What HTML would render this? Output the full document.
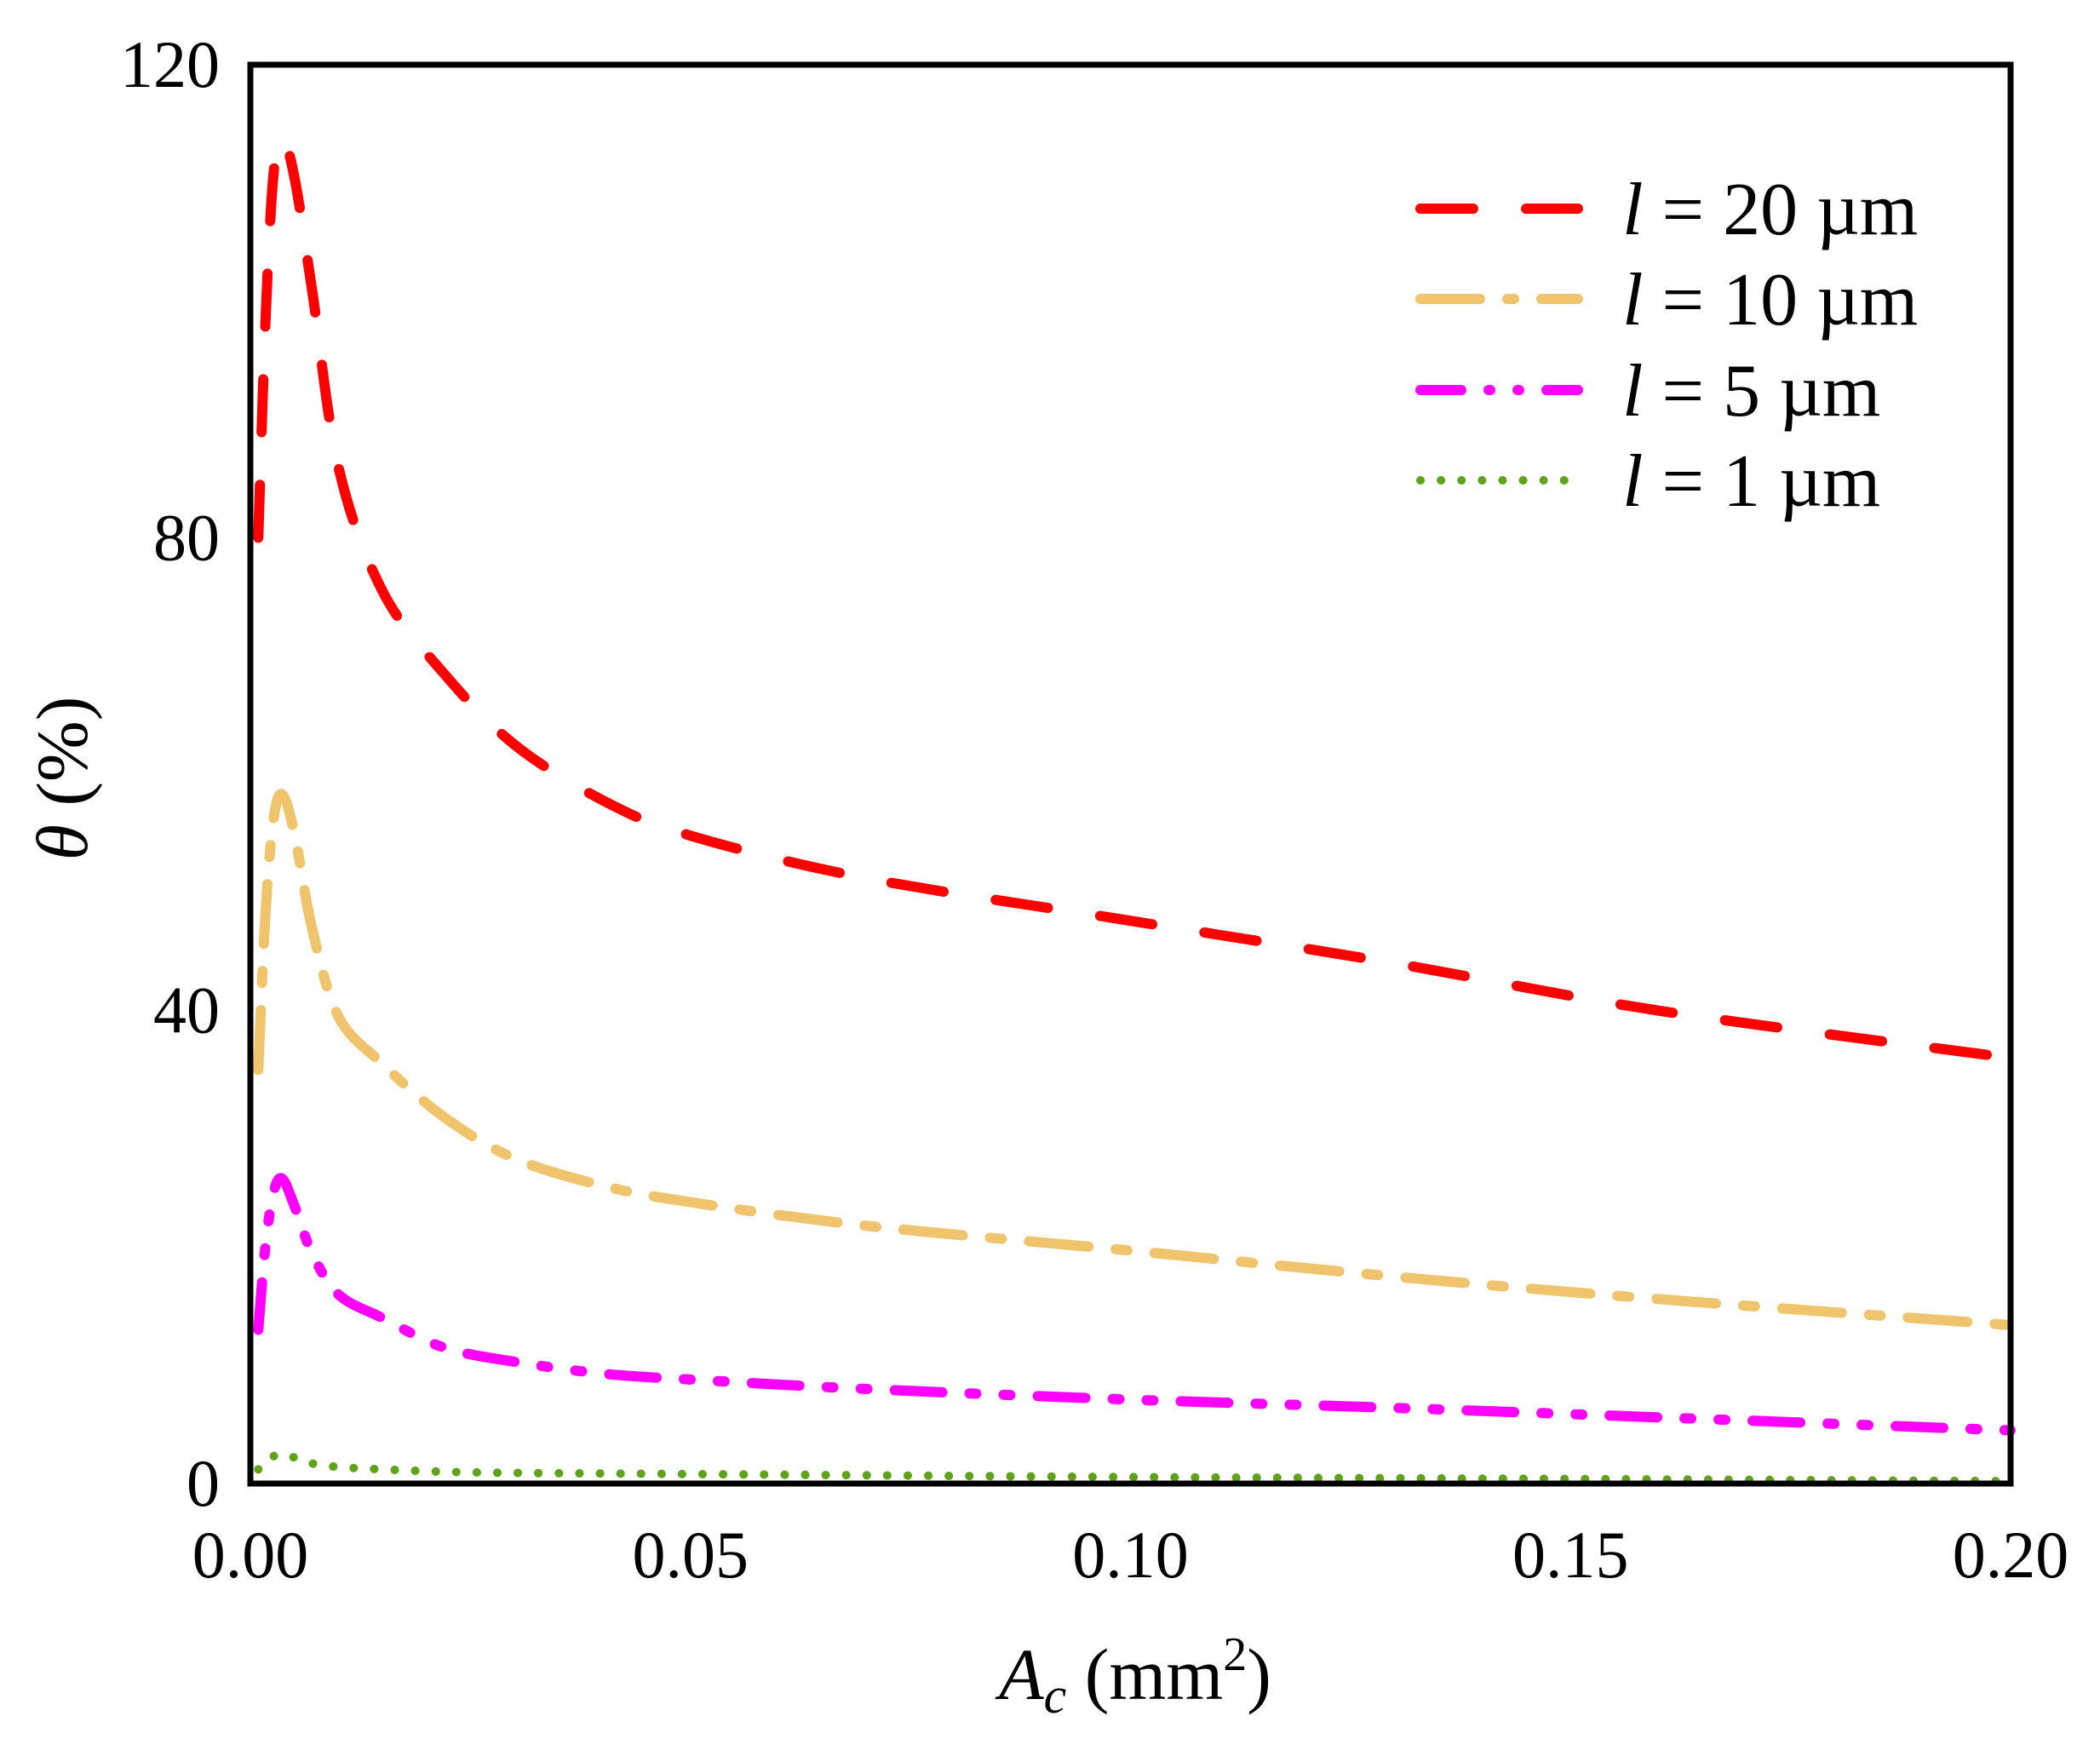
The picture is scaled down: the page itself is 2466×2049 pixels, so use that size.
<!DOCTYPE html>
<html><head><meta charset="utf-8"><style>
html,body{margin:0;padding:0;background:#fff;}
svg{display:block;font-family:"Liberation Serif","DejaVu Serif",serif;}
</style></head><body>
<svg id="chart" width="2466" height="2049" viewBox="0 0 2466 2049" xmlns="http://www.w3.org/2000/svg">
<rect x="0" y="0" width="2466" height="2049" fill="#ffffff"/>
<g id="series"></g>
<rect x="294" y="76" width="2067" height="1666" fill="none" stroke="#000" stroke-width="7"/>
<g id="ticks" font-size="78" fill="#000"></g>
<text x="1333" y="1995" font-size="86" text-anchor="middle"><tspan font-style="italic">A</tspan><tspan font-style="italic" font-size="60" dy="16">c</tspan><tspan dy="-16"> (mm</tspan><tspan font-size="56" dy="-34">2</tspan><tspan dy="34">)</tspan></text>
<text x="0" y="0" font-size="86" text-anchor="middle" transform="translate(102,914) rotate(-90)"><tspan font-style="italic">θ</tspan> (%)</text>
<g id="legend" font-size="88"></g>
</svg>
<script>
const xTicks = [0, 0.05, 0.10, 0.15, 0.20];
const xTickLabels = ["0.00", "0.05", "0.10", "0.15", "0.20"];
const yTicks = [0, 40, 80, 120];
const yTickLabels = ["0", "40", "80", "120"];
const seriesNames = ["l = 20 µm", "l = 10 µm", "l = 5 µm", "l = 1 µm"];
const xValues = [0.0009, 0.0017, 0.0026, 0.0036, 0.005, 0.007, 0.01, 0.015, 0.022, 0.03, 0.04, 0.05, 0.07, 0.1, 0.13, 0.16, 0.2];
const l20 = [80, 98, 110.5, 113.8, 110.5, 101, 86, 75.5, 68.5, 62.5, 57.8, 54.8, 51.2, 47.6, 44, 40, 36];
const l10 = [35, 48, 56, 58.3, 55, 47, 39.5, 35.5, 31, 27.5, 25.2, 23.8, 21.8, 19.7, 17.5, 15.6, 13.4];
const l5 = [13, 20, 24.5, 25.8, 23.5, 19.5, 16, 14, 11.5, 10.3, 9.3, 8.8, 8, 7.1, 6.4, 5.6, 4.5];
const l1 = [1.2, 1.8, 2.3, 2.5, 2.2, 1.7, 1.4, 1.2, 1.0, 0.9, 0.85, 0.8, 0.7, 0.55, 0.45, 0.35, 0.2];

const X0 = 294, X1 = 2361, Y0 = 1742, Y1 = 76;
function sx(v){ return X0 + (v - 0) / 0.2 * (X1 - X0); }
function sy(v){ return Y0 - v / 120 * (Y0 - Y1); }
const NS = "http://www.w3.org/2000/svg";

const styles = [
  {color:"#ff0000", dash:"62 62"},
  {color:"#efc46c", dash:"70 32 14 32"},
  {color:"#ff00ff", dash:"56 32 8 32 8 32"},
  {color:"#5ea31a", dash:"0.1 24"}
];
const series = [l20, l10, l5, l1];
const names = ["line-l20", "line-l10", "line-l5", "line-l1"];

const sg = document.getElementById("series");
series.forEach((vals, i) => {
  const pts = xValues.map((x, k) => [sx(x), sy(vals[k])]);
  let d = "M" + pts[0][0] + "," + pts[0][1];
  for (let k = 0; k < pts.length - 1; k++) {
    const p0 = pts[Math.max(0, k-1)], p1 = pts[k], p2 = pts[k+1], p3 = pts[Math.min(pts.length-1, k+2)];
    const c1 = [p1[0] + (p2[0]-p0[0])/6, p1[1] + (p2[1]-p0[1])/6];
    const c2 = [p2[0] - (p3[0]-p1[0])/6, p2[1] - (p3[1]-p1[1])/6];
    d += " C" + c1[0] + "," + c1[1] + " " + c2[0] + "," + c2[1] + " " + p2[0] + "," + p2[1];
  }
  const p = document.createElementNS(NS, "path");
  p.setAttribute("d", d);
  p.setAttribute("fill", "none");
  p.setAttribute("stroke", styles[i].color);
  p.setAttribute("stroke-width", i === 3 ? 10 : 12);
  p.setAttribute("stroke-linecap", "round");
  p.setAttribute("stroke-linejoin", "round");
  p.setAttribute("stroke-dasharray", styles[i].dash);
  
  
  sg.appendChild(p);
});

const tg = document.getElementById("ticks");
xTicks.forEach((v, i) => {
  const t = document.createElementNS(NS, "text");
  t.setAttribute("x", sx(v));
  t.setAttribute("y", 1852);
  t.setAttribute("text-anchor", "middle");
  t.textContent = xTickLabels[i];
  
  
  tg.appendChild(t);
});
yTicks.forEach((v, i) => {
  const t = document.createElementNS(NS, "text");
  t.setAttribute("x", 258);
  t.setAttribute("y", sy(v) + 26);
  t.setAttribute("text-anchor", "end");
  t.textContent = yTickLabels[i];
  
  
  tg.appendChild(t);
});

const lg = document.getElementById("legend");
const rowsY = [245, 351, 458, 564];
seriesNames.forEach((n, i) => {
  const l = document.createElementNS(NS, "line");
  l.setAttribute("x1", 1668); l.setAttribute("x2", i === 3 ? 1840 : 1853);
  l.setAttribute("y1", rowsY[i]); l.setAttribute("y2", rowsY[i]);
  l.setAttribute("stroke", styles[i].color);
  l.setAttribute("stroke-width", i === 3 ? 10 : 12);
  l.setAttribute("stroke-linecap", "round");
  l.setAttribute("stroke-dasharray", i === 0 ? "62 62" : i === 1 ? "70 32 8 32" : i === 2 ? "48 32 2 32 2 32" : "0.1 24");
  
  
  lg.appendChild(l);
  const t = document.createElementNS(NS, "text");
  t.setAttribute("x", 1905);
  t.setAttribute("y", rowsY[i] + 30);
  t.innerHTML = '<tspan font-style="italic">l</tspan>' + n.slice(1);
  
  
  lg.appendChild(t);
});
</script>
</body></html>
